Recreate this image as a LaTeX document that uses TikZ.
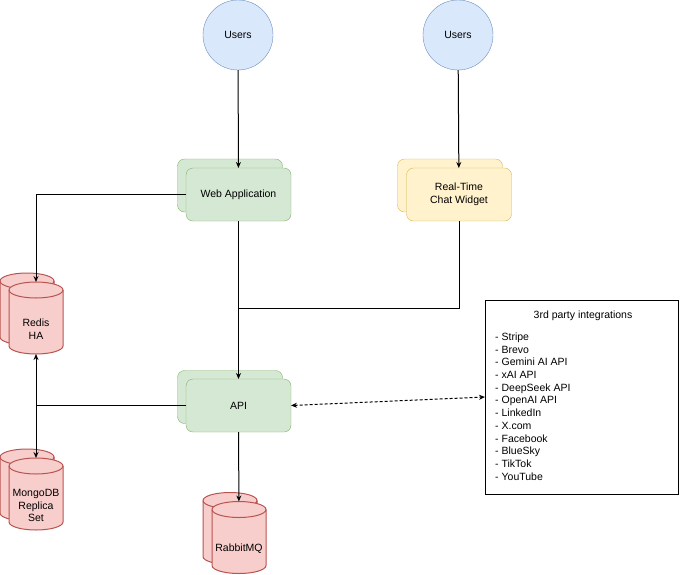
\documentclass[tikz,border=0pt]{standalone}
\usepackage{fontspec}
\setmainfont{Liberation Sans}
\usepackage{xcolor}
\usepackage{tikz}
\usetikzlibrary{arrows.meta}
\definecolor{userfill}{HTML}{DAE8FC}
\definecolor{userline}{HTML}{6C8EBF}
\definecolor{webfill}{HTML}{D5E8D4}
\definecolor{webline}{HTML}{82B366}
\definecolor{chatfill}{HTML}{FFF2CC}
\definecolor{chatline}{HTML}{D6B656}
\definecolor{dbfill}{HTML}{F8CECC}
\definecolor{dbline}{HTML}{B85450}
% database cylinder: name, x, y
\newcommand{\dbcyl}[3]{%
  \node[dbbox] (#1) at (#2,#3) {};
  \filldraw[draw=dbline, fill=dbfill, line width=1pt]
    ([yshift=-8pt]#1.north west) -- ([yshift=8pt]#1.south west)
    arc[start angle=180, end angle=360, x radius=27pt, y radius=8pt]
    -- ([yshift=-8pt]#1.north east)
    arc[start angle=0, end angle=180, x radius=27pt, y radius=8pt] -- cycle;
  \draw[dbline, line width=1pt] ([yshift=-8pt]#1.north west)
    arc[start angle=180, end angle=360, x radius=27pt, y radius=8pt];
}

\begin{document}
\begin{tikzpicture}[x=1pt, y=-1pt, font=\fontsize{10.5}{12.7}\selectfont,
  >={Stealth[length=6pt, width=5pt]},
  users/.style={circle, draw=userline, fill=userfill, minimum size=70pt, inner sep=0pt, outer sep=0pt},
  appbox/.style={rectangle, rounded corners=7pt, draw=#1line, fill=#1fill, minimum width=105pt, minimum height=53pt, align=center, inner sep=0pt, outer sep=0pt},
  dbbox/.style={rectangle, minimum width=54pt, minimum height=72pt, inner sep=0pt, outer sep=0pt},
  flow/.style={line width=1pt}]
  \useasboundingbox (0,0) rectangle (680,574);

  % Users
  \node[users] (U1) at (238, 35) {Users};
  \node[users] (U2) at (458, 35) {Users};

  % Web application and chat widget
  \node[appbox=web] (WebBack) at (230, 185.5) {};
  \node[appbox=web] (Web) at (238.5, 194.5) {Web Application};
  \node[appbox=chat] (ChatBack) at (450, 185.5) {};
  \node[appbox=chat] (Chat) at (459, 194.5) {Real-Time\\Chat Widget};

  % API
  \node[appbox=web] (ApiBack) at (230, 397) {};
  \node[appbox=web] (Api) at (238.5, 405.5) {API};

  % Databases
  \dbcyl{RedisBack}{27}{309}
  \dbcyl{Redis}{36}{318}
  \node[align=center] (RedisTxt) at (36, 329) {Redis\\HA};
  \dbcyl{MongoBack}{27}{485}
  \dbcyl{Mongo}{36}{494}
  \node[align=center] (MongoTxt) at (36, 505.5) {MongoDB\\Replica\\Set};
  \dbcyl{RabbitBack}{230}{528.5}
  \dbcyl{Rabbit}{239}{537.5}
  \node (RabbitTxt) at (239, 549) {RabbitMQ};

  % 3rd party box
  \node[draw, line width=1pt, minimum width=193pt, minimum height=194pt, inner sep=0pt, outer sep=0pt] (Ext) at (581.5, 397) {};
  \node (ExtTitle) at (583, 316) {3rd party integrations};
  \node[anchor=west, align=left, inner sep=0pt] (ExtList) at (495, 406.5)
    {- Stripe\\- Brevo\\- Gemini AI API\\- xAI API\\- DeepSeek API\\- OpenAI API\\- LinkedIn\\- X.com\\- Facebook\\- BlueSky\\- TikTok\\- YouTube};

  % connectors
  \coordinate (Join) at (238.5, 308);
  \draw[flow, ->] (U1) -- (Web);
  \draw[flow, ->] (U2) -- (Chat);
  \draw[flow, ->] (Web.west) -| (Redis.north);
  \draw[flow, ->] (Web) -- (Api);
  \draw[flow] (Chat.south) |- (Join);
  \draw[flow, ->] (Api.west) -| (Redis.south);
  \draw[flow, ->] (Api.west) -| (Mongo.north);
  \draw[flow, ->] (Api) -- (Rabbit);
  \draw[flow, <->, dash pattern=on 3pt off 2pt] (Api.east) -- (Ext.west);
\end{tikzpicture}
\end{document}
